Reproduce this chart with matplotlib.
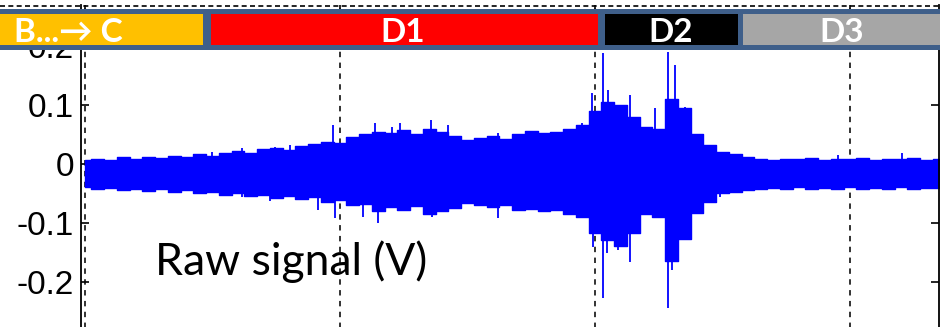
import numpy as np
import matplotlib
matplotlib.use("Agg")
import matplotlib.pyplot as plt
from matplotlib.patches import Rectangle
from matplotlib.lines import Line2D

plt.rcParams['axes.unicode_minus'] = False

# envelope of the raw signal, read every 0.05 grid units (V)
env_x = [0.00, 0.05, 0.10, 0.15, 0.20, 0.25, 0.30, 0.35, 0.40, 0.45, 0.50, 0.55, 0.60, 0.65,
         0.70, 0.75, 0.80, 0.85, 0.90, 0.95, 1.00, 1.05, 1.10, 1.15, 1.20, 1.25, 1.30, 1.35,
         1.40, 1.45, 1.50, 1.55, 1.60, 1.65, 1.70, 1.75, 1.80, 1.85, 1.90, 1.95, 2.00, 2.05,
         2.10, 2.15, 2.20, 2.25, 2.30, 2.35, 2.40, 2.45, 2.50, 2.55, 2.60, 2.65, 2.70, 2.75,
         2.80, 2.85, 2.90, 2.95, 3.00, 3.05, 3.10, 3.15, 3.20, 3.25, 3.30, 3.35]
env_hi = [0.007, 0.009, 0.006, 0.011, 0.008, 0.012, 0.010, 0.014, 0.012, 0.017, 0.014, 0.019,
          0.022, 0.018, 0.025, 0.027, 0.023, 0.030, 0.034, 0.038, 0.035, 0.045, 0.050, 0.055,
          0.052, 0.058, 0.050, 0.060, 0.055, 0.048, 0.040, 0.044, 0.047, 0.042, 0.050, 0.056,
          0.052, 0.054, 0.060, 0.066, 0.090, 0.105, 0.100, 0.080, 0.062, 0.060, 0.110, 0.095,
          0.050, 0.032, 0.020, 0.016, 0.011, 0.009, 0.007, 0.009, 0.008, 0.010, 0.007, 0.009,
          0.008, 0.010, 0.007, 0.009, 0.008, 0.010, 0.007, 0.008]
env_lo = [-0.040, -0.042, -0.041, -0.044, -0.042, -0.046, -0.043, -0.047, -0.045, -0.049,
          -0.047, -0.052, -0.050, -0.055, -0.053, -0.058, -0.054, -0.060, -0.057, -0.065,
          -0.062, -0.070, -0.068, -0.080, -0.074, -0.078, -0.072, -0.085, -0.080, -0.075,
          -0.066, -0.070, -0.074, -0.070, -0.078, -0.076, -0.080, -0.078, -0.085, -0.090,
          -0.118, -0.130, -0.140, -0.118, -0.085, -0.090, -0.165, -0.128, -0.083, -0.064,
          -0.050, -0.047, -0.044, -0.043, -0.041, -0.043, -0.040, -0.042, -0.041, -0.043,
          -0.040, -0.042, -0.041, -0.043, -0.040, -0.042, -0.041, -0.041]

# individual peaks
peak_up_x = [0.145, 0.498, 0.616, 0.745, 0.804, 0.973, 1.137, 1.204, 1.235, 1.357, 1.424,
             1.620, 1.949, 1.988, 2.031, 2.051, 2.137, 2.235, 2.286, 2.314, 2.353, 2.953, 3.204]
peak_up = [0.012, 0.020, 0.027, 0.029, 0.032, 0.066, 0.069, 0.063, 0.069, 0.075, 0.066,
           0.052, 0.069, 0.120, 0.188, 0.125, 0.117, 0.095, 0.190, 0.168, 0.097, 0.015, 0.018]
peak_dn_x = [0.616, 0.725, 0.914, 0.980, 1.090, 1.149, 1.361, 1.620, 1.992, 2.031, 2.047,
             2.090, 2.137, 2.286, 2.302, 2.353, 2.490, 2.561]
peak_dn = [-0.056, -0.063, -0.078, -0.092, -0.090, -0.100, -0.090, -0.092, -0.141, -0.228,
           -0.151, -0.146, -0.167, -0.245, -0.180, -0.129, -0.056, -0.049]
center = -0.017

yticks = [-0.2, -0.1, 0, 0.1, 0.2]
yticklabels = ['-0.2', '-0.1', '0', '0.1', '0.2']
xgrid = [0, 1, 2, 3]

# phase bar on top: label, start px, end px, colour
phases = ['B...\u2192 C', 'D1', 'D2', 'D3']
phase_x0 = [0, 211, 605, 743]
phase_x1 = [203, 597.5, 737.5, 945]
phase_col = ['#FFC000', '#FF0000', '#000000', '#A6A6A6']
phase_lbl_x = [68, 403, 671, 842]

W, H = 940, 327
fig = plt.figure(figsize=(W / 100, H / 100), dpi=100)
ax = fig.add_axes([81 / W, -14 / H, (939 - 81) / W, (341 - 5) / H])

for gx in xgrid:
    ax.axvline(gx, color='#222222', lw=1.3, ls=(0, (3, 3)), zorder=1)

blue = '#0000FF'
ax.fill_between(env_x, env_lo, env_hi, step='mid', color=blue, lw=1.0, zorder=2)
ax.vlines(peak_up_x, center, peak_up, color=blue, lw=1.3, zorder=2)
ax.vlines(peak_dn_x, peak_dn, center, color=blue, lw=1.3, zorder=2)

ax.set_xlim(-4 / 255, (939 - 85) / 255)
ax.set_ylim(-0.3007, 0.2698)
ax.set_yticks(yticks)
ax.set_yticklabels(yticklabels, fontsize=24, family='Liberation Sans')
ax.set_xticks(xgrid)
ax.set_xticklabels([])
ax.tick_params(direction='in', length=6, width=1.2, top=True, right=True, pad=5)
ax.spines['top'].set_visible(False)
for s in ['left', 'right', 'bottom']:
    ax.spines[s].set_linewidth(1.3)

ax.text(0.275, -0.189, 'Raw signal (V)', fontsize=32, family=['Lato', 'DejaVu Sans'],
        ha='left', va='baseline', color='black')

# dashed line along the very top
fig.add_artist(Line2D([0, 1], [1 - 5.5 / H, 1 - 5.5 / H], color='black', lw=1.2,
                      ls=(0, (3, 2)), zorder=5))

# phase band
fig.add_artist(Rectangle((0, 1 - 50 / H), 1, 41 / H, facecolor='#3F5F8A',
                         edgecolor='none', zorder=5))
for lab, a, b, c, lx in zip(phases, phase_x0, phase_x1, phase_col, phase_lbl_x):
    fig.add_artist(Rectangle((a / W, 1 - 45 / H), (b - a) / W, 31 / H, facecolor=c,
                             edgecolor='none', zorder=6))
    fig.text(lx / W, 1 - 42.3 / H, lab, color='white', fontsize=24, fontweight='bold',
             family=['Lato', 'DejaVu Sans'], ha='center', va='baseline', zorder=7)

fig.savefig('out.png', dpi=100)
